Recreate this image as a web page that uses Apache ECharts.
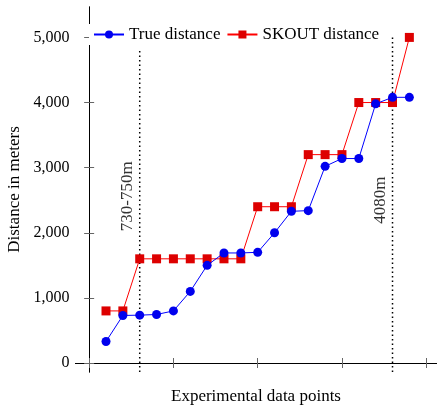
<!DOCTYPE html>
<html><head><meta charset="utf-8">
<script src="https://cdn.jsdelivr.net/npm/echarts@6/dist/echarts.min.js"></script>
<style>html,body{margin:0;padding:0;background:#fff}#c{width:437px;height:407px}</style>
</head><body><div id="c"></div>
<script>
const points = [1,2,3,4,5,6,7,8,9,10,11,12,13,14,15,16,17,18,19];
const trueDistance = [330,730,735,745,800,1100,1500,1690,1690,1700,2000,2330,2340,3020,3140,3140,3980,4080,4080];
const skoutDistance = [800,800,1600,1600,1600,1600,1600,1600,1600,2400,2400,2400,3200,3200,3200,4000,4000,4000,5000];
const yTicks = [0,1000,2000,3000,4000,5000];
const xTicks = [0,5,10,15,20];
const markerLines = [
  {x:3, top:4800, label:'730-750m', labelX:2.3, labelY:2560},
  {x:18, top:5000, label:'4080m', labelX:17.3, labelY:2500}
];
const yMin = -138, yMax = 5467, xMin = -0.81, xMax = 20.61;

const font = 'Liberation Serif';
const chart = echarts.init(document.getElementById('c'), null, {renderer:'canvas'});
const fmt = v => v.toLocaleString('en-US');
const axisLine = {show:true, lineStyle:{color:'#000', width:1}};
const tickStyle = {color:'#666', width:1};

const series = [];
markerLines.forEach((m,i) => {
  series.push({
    type:'line', silent:true, symbol:'none', z:1,
    data:[[m.x, yMin],[m.x, m.top]],
    lineStyle:{color:'#000', type:[1.5,3], width:1.5}
  });
  series.push({
    type:'scatter', silent:true, symbolSize:0, z:1,
    data:[[m.labelX, m.labelY]],
    label:{show:true, position:'inside', rotate:90, formatter:m.label, color:'#000', fontFamily:font, fontSize:17}
  });
});
series.push({
  name:'True distance', type:'line', data:points.map((p,i)=>[p,trueDistance[i]]),
  symbol:'circle', symbolSize:9, z:3,
  lineStyle:{color:'#0000ff', width:1}, itemStyle:{color:'#0000ee'}
});
series.push({
  name:'SKOUT distance', type:'line', data:points.map((p,i)=>[p,skoutDistance[i]]),
  symbol:'rect', symbolSize:9, z:2,
  lineStyle:{color:'#ff0000', width:1}, itemStyle:{color:'#dd0000'}
});

chart.setOption({
  animation:false,
  textStyle:{fontFamily:font},
  grid:{left:75.5, right:0.5, top:7, bottom:35, containLabel:false, outerBoundsMode:'none'},
  legend:{
    data:['True distance','SKOUT distance'], left:89, top:24,
    itemWidth:30, itemHeight:10, itemGap:6,
    textStyle:{fontFamily:font, fontSize:17, color:'#000'},
    backgroundColor:'#fff', padding:[2,4]
  },
  xAxis:[
    {type:'value', min:xMin, max:xMax, position:'bottom',
     name:'Experimental data points', nameLocation:'middle', nameGap:16,
     nameTextStyle:{fontFamily:font, fontSize:17, color:'#000'},
     axisLine:axisLine, splitLine:{show:false}, axisLabel:{show:false},
     axisTick:{show:true, inside:true, length:5, customValues:xTicks, lineStyle:tickStyle}},
    {type:'value', min:xMin, max:xMax, position:'top',
     axisLine:axisLine, splitLine:{show:false}, axisLabel:{show:false},
     axisTick:{show:true, inside:true, length:5, customValues:xTicks, lineStyle:tickStyle}}
  ],
  yAxis:[
    {type:'value', min:yMin, max:yMax, position:'left',
     name:'Distance in meters', nameLocation:'middle', nameGap:46, nameRotate:90,
     nameTextStyle:{fontFamily:font, fontSize:17, color:'#000'},
     axisLine:axisLine, splitLine:{show:false},
     axisLabel:{show:true, customValues:yTicks, formatter:fmt, fontFamily:font, fontSize:16, color:'#000', margin:6},
     axisTick:{show:true, inside:true, length:5, customValues:yTicks, lineStyle:tickStyle}},
    {type:'value', min:yMin, max:yMax, position:'right',
     axisLine:axisLine, splitLine:{show:false}, axisLabel:{show:false},
     axisTick:{show:true, inside:true, length:5, customValues:yTicks, lineStyle:tickStyle}}
  ],
  series:series
});
</script></body></html>
